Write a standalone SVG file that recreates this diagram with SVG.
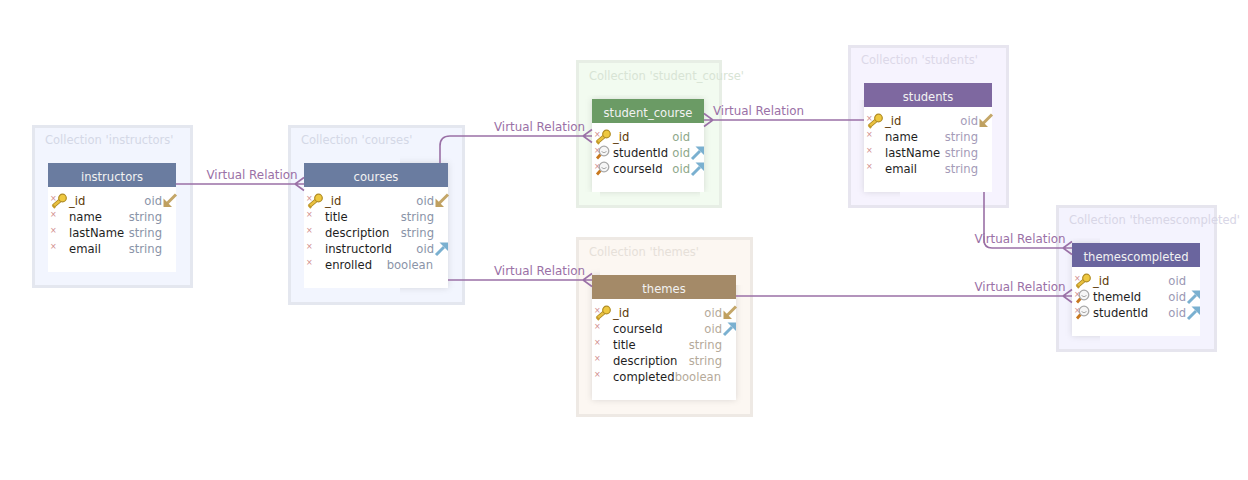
<svg xmlns="http://www.w3.org/2000/svg" width="1248" height="480" viewBox="0 0 1248 480">
<style>
text{font-family:"DejaVu Sans",sans-serif;font-size:11.6px}
.cl{stroke-width:3}
.ct{font-size:11.5px}
.hd{fill:#f2f2f2;text-anchor:middle}
.nm{fill:#1e1e1e}
.pk{fill:#5e3c08}
.ty{text-anchor:end}
.bd{fill:#fff}
.sh{fill:#000;fill-opacity:.13;filter:url(#sh)}
.x{fill:#d08a8a;font-size:8px}
.e{fill:none;stroke:#9a70a6;stroke-width:1.6}
.lb{fill:#9a70a6;font-size:11.9px;text-anchor:middle}
.blue .cl{fill:#f2f5fe;stroke:#e4e7ef}.blue .ct{fill:#d4d8e6}.blue .hr{fill:#6a7ca0}.blue .ty{fill:#8a94a8}
.green .cl{fill:#f2fbf0;stroke:#e7eee5}.green .ct{fill:#d8e4d5}.green .hr{fill:#6b9b65}.green .ty{fill:#8ea88a}
.purple .cl{fill:#f6f3fe;stroke:#e7e5ef}.purple .ct{fill:#dcd8e8}.purple .hr{fill:#7e68a0}.purple .ty{fill:#a49bb8}
.brown .cl{fill:#fcf7f2;stroke:#eee9e4}.brown .ct{fill:#e6e0d9}.brown .hr{fill:#a48a68}.brown .ty{fill:#b5aa9a}
.indigo .cl{fill:#f4f3fe;stroke:#e6e5ee}.indigo .ct{fill:#d8d6e6}.indigo .hr{fill:#6a659e}.indigo .ty{fill:#9a98b4}
</style>
<defs>
<filter id="sh" x="-15%" y="-15%" width="130%" height="130%"><feGaussianBlur stdDeviation="3"/></filter>
<clipPath id="c1"><rect x="400" y="150" width="64" height="152"/></clipPath>
<clipPath id="c2"><rect x="851" y="100" width="49" height="105"/></clipPath>
<clipPath id="c3"><rect x="579" y="95" width="140" height="97"/><rect x="600" y="192" width="100" height="12"/></clipPath>
<clipPath id="c4"><rect x="580" y="264" width="20" height="146"/><rect x="600" y="285" width="150" height="125"/></clipPath>
<clipPath id="c5"><rect x="1060" y="238" width="40" height="110"/></clipPath>
<g id="key"><path d="M9 6.500L2.500 12" fill="none" stroke="#a88420" stroke-width="4"/><path d="M9 6.500L2.500 12" fill="none" stroke="#e8c040" stroke-width="2.400"/><path d="M1.500 11l2.500 3" stroke="#c49a28" stroke-width="2"/><circle cx="11.500" cy="4" r="3.800" fill="#eec840" stroke="#b08c24" stroke-width="1.200"/></g>
<g id="fk"><path d="M5.500 8.500L2 12.500" stroke="#c8781e" stroke-width="2.800"/><circle cx="9" cy="5" r="4.800" fill="#f6f6f6" stroke="#a8a8a8" stroke-width="1.300"/><path d="M6.500 5.500q2.500 2.500 5 0" fill="none" stroke="#aaa"/></g>
<g id="pkref"><path d="M13 0.500L4 9.500" stroke="#c4a668" stroke-width="3"/><path d="M0.500 13V4.500L9 13Z" fill="#bfa060"/></g>
<g id="fkref"><path d="M1 13L9 5" stroke="#7ab0d0" stroke-width="3"/><path d="M13 0.500H4.500L13 9Z" fill="#7ab0d0"/></g>
</defs>

<g id="instructors" class="blue">
<rect class="cl" x="33.500" y="126.500" width="158" height="160"/>
<text class="ct" x="45" y="144">Collection 'instructors'</text>
<rect class="bd" x="48" y="163" width="128" height="109"/>
<rect class="hr" x="48" y="163" width="128" height="24"/>
<text class="hd" x="112" y="181">instructors</text>
<text class="x" x="50" y="201">×</text><text class="x" x="50" y="217">×</text><text class="x" x="50" y="233">×</text><text class="x" x="50" y="249">×</text>
<use href="#key" x="51" y="194"/>
<text class="pk" x="69" y="205">_id</text><text class="ty" x="162" y="205">oid</text><use href="#pkref" x="163" y="194"/>
<text class="nm" x="69" y="221">name</text><text class="ty" x="162" y="221">string</text>
<text class="nm" x="69" y="237">lastName</text><text class="ty" x="162" y="237">string</text>
<text class="nm" x="69" y="253">email</text><text class="ty" x="162" y="253">string</text>
</g>

<g id="courses" class="blue">
<rect class="cl" x="289.500" y="126.500" width="174" height="177"/>
<text class="ct" x="301" y="144">Collection 'courses'</text>
<g clip-path="url(#c1)"><rect class="sh" x="304" y="163" width="144" height="125"/></g>
<rect class="bd" x="304" y="163" width="144" height="125"/>
<rect class="hr" x="304" y="163" width="144" height="24"/>
<text class="hd" x="376" y="181">courses</text>
<text class="x" x="306" y="201">×</text><text class="x" x="306" y="217">×</text><text class="x" x="306" y="233">×</text><text class="x" x="306" y="249">×</text><text class="x" x="306" y="265">×</text>
<use href="#key" x="307" y="194"/>
<text class="pk" x="325" y="205">_id</text><text class="ty" x="434" y="205">oid</text><use href="#pkref" x="435" y="194"/>
<text class="nm" x="325" y="221">title</text><text class="ty" x="434" y="221">string</text>
<text class="nm" x="325" y="237">description</text><text class="ty" x="434" y="237">string</text>
<text class="nm" x="325" y="253">instructorId</text><text class="ty" x="434" y="253">oid</text><use href="#fkref" x="435" y="242"/>
<text class="nm" x="325" y="269">enrolled</text><text class="ty" x="433" y="269">boolean</text>
</g>

<g id="student_course" class="green">
<rect class="cl" x="577.500" y="61.500" width="143" height="145"/>
<text class="ct" x="589" y="80">Collection 'student_course'</text>
<g clip-path="url(#c3)"><rect class="sh" x="592" y="99" width="112" height="93"/></g>
<rect class="bd" x="592" y="99" width="112" height="93"/>
<rect class="hr" x="592" y="99" width="112" height="24"/>
<text class="hd" x="648" y="117">student_course</text>
<text class="x" x="594" y="137">×</text><text class="x" x="594" y="153">×</text><text class="x" x="594" y="169">×</text>
<use href="#key" x="595" y="130"/>
<text class="pk" x="613" y="141">_id</text><text class="ty" x="690" y="141">oid</text>
<use href="#fk" x="595" y="146"/><text class="nm" x="613" y="157">studentId</text><text class="ty" x="690" y="157">oid</text><use href="#fkref" x="691" y="146"/>
<use href="#fk" x="595" y="162"/><text class="nm" x="613" y="173">courseId</text><text class="ty" x="690" y="173">oid</text><use href="#fkref" x="691" y="162"/>
</g>

<g id="students" class="purple">
<rect class="cl" x="849.500" y="46.500" width="158" height="160"/>
<text class="ct" x="861" y="64">Collection 'students'</text>
<g clip-path="url(#c2)"><rect class="sh" x="864" y="83" width="128" height="109"/></g>
<rect class="bd" x="864" y="83" width="128" height="109"/>
<rect class="hr" x="864" y="83" width="128" height="24"/>
<text class="hd" x="928" y="101">students</text>
<text class="x" x="866" y="121">×</text><text class="x" x="866" y="137">×</text><text class="x" x="866" y="153">×</text><text class="x" x="866" y="169">×</text>
<use href="#key" x="867" y="114"/>
<text class="pk" x="885" y="125">_id</text><text class="ty" x="978" y="125">oid</text><use href="#pkref" x="979" y="114"/>
<text class="nm" x="885" y="141">name</text><text class="ty" x="978" y="141">string</text>
<text class="nm" x="885" y="157">lastName</text><text class="ty" x="978" y="157">string</text>
<text class="nm" x="885" y="173">email</text><text class="ty" x="978" y="173">string</text>
</g>

<g id="themes" class="brown">
<rect class="cl" x="577.500" y="238.500" width="174" height="177"/>
<text class="ct" x="589" y="256">Collection 'themes'</text>
<g clip-path="url(#c4)"><rect class="sh" x="592" y="275" width="144" height="125"/></g>
<rect class="bd" x="592" y="275" width="144" height="125"/>
<rect class="hr" x="592" y="275" width="144" height="24"/>
<text class="hd" x="664" y="293">themes</text>
<text class="x" x="594" y="313">×</text><text class="x" x="594" y="329">×</text><text class="x" x="594" y="345">×</text><text class="x" x="594" y="361">×</text><text class="x" x="594" y="377">×</text>
<use href="#key" x="595" y="306"/>
<text class="pk" x="613" y="317">_id</text><text class="ty" x="722" y="317">oid</text><use href="#pkref" x="723" y="306"/>
<text class="nm" x="613" y="333">courseId</text><text class="ty" x="722" y="333">oid</text><use href="#fkref" x="723" y="322"/>
<text class="nm" x="613" y="349">title</text><text class="ty" x="722" y="349">string</text>
<text class="nm" x="613" y="365">description</text><text class="ty" x="722" y="365">string</text>
<text class="nm" x="613" y="381">completed</text><text class="ty" x="721" y="381">boolean</text>
</g>

<g id="themescompleted" class="indigo">
<rect class="cl" x="1057.500" y="206.500" width="158" height="144"/>
<text class="ct" x="1069" y="224">Collection 'themescompleted'</text>
<g clip-path="url(#c5)"><rect class="sh" x="1072" y="243" width="128" height="93"/></g>
<rect class="bd" x="1072" y="243" width="128" height="93"/>
<rect class="hr" x="1072" y="243" width="128" height="24"/>
<text class="hd" x="1136" y="261">themescompleted</text>
<text class="x" x="1074" y="281">×</text><text class="x" x="1074" y="297">×</text><text class="x" x="1074" y="313">×</text>
<use href="#key" x="1075" y="274"/>
<text class="pk" x="1093" y="285">_id</text><text class="ty" x="1186" y="285">oid</text>
<use href="#fk" x="1075" y="290"/><text class="nm" x="1093" y="301">themeId</text><text class="ty" x="1186" y="301">oid</text><use href="#fkref" x="1187" y="290"/>
<use href="#fk" x="1075" y="306"/><text class="nm" x="1093" y="317">studentId</text><text class="ty" x="1186" y="317">oid</text><use href="#fkref" x="1187" y="306"/>
</g>

<g id="edges">
<path class="e" d="M176 184H304M304 177.500L295 184L304 190.500"/>
<path class="e" d="M440 163V146Q440 136 450 136H592M592 129.500L583 136L592 142.500"/>
<path class="e" d="M448 280H592M592 273.500L583 280L592 286.500"/>
<path class="e" d="M704 120H864M704 113.500L713 120L704 126.500"/>
<path class="e" d="M984 192V240Q984 248 992 248H1072M1072 241.500L1063 248L1072 254.500"/>
<path class="e" d="M736 296H1072M1072 289.500L1063 296L1072 302.500"/>
<text class="lb" x="252" y="179">Virtual Relation</text>
<text class="lb" x="539.500" y="131">Virtual Relation</text>
<text class="lb" x="539.500" y="275">Virtual Relation</text>
<text class="lb" x="758.500" y="115">Virtual Relation</text>
<text class="lb" x="1020" y="243">Virtual Relation</text>
<text class="lb" x="1020" y="291">Virtual Relation</text>
</g>
</svg>
